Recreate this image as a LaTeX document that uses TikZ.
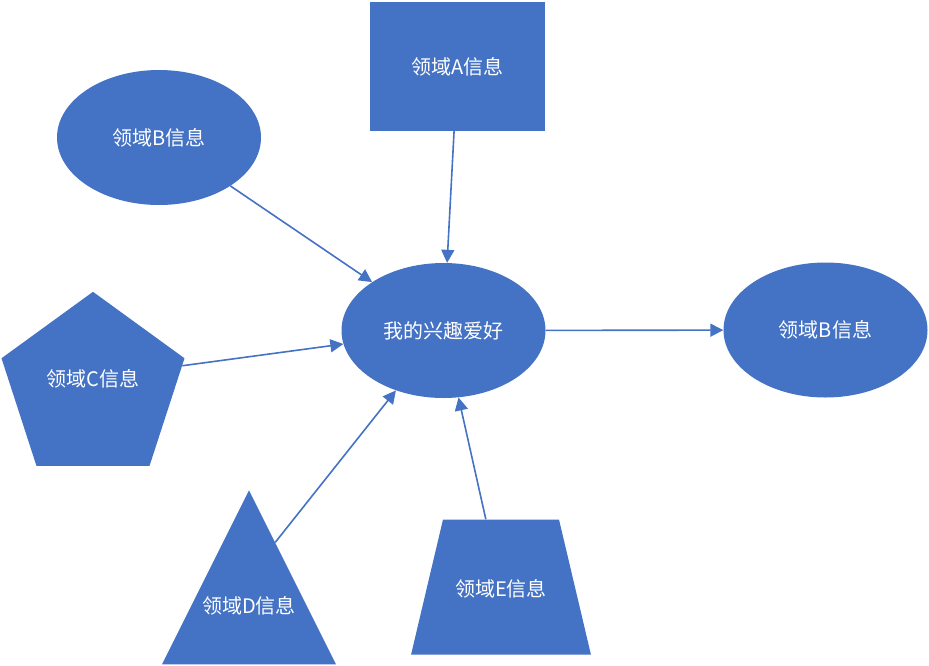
\documentclass[tikz,border=0pt]{standalone}
\usepackage{fontspec}
\newfontfamily\cjk{Noto Sans CJK SC}
\usetikzlibrary{shapes.geometric,arrows.meta}
\definecolor{officeblue}{HTML}{4472C4}
\begin{document}
\begin{tikzpicture}[x=1pt,y=-1pt,
  shp/.style={fill=officeblue, text=white, inner sep=0pt, font=\cjk\fontsize{20}{24}\selectfont},
  lbl/.style={text=white, inner sep=0pt, font=\cjk\fontsize{20}{24}\selectfont},
  arr/.style={draw=officeblue, line width=1.6pt, -{Triangle[length=13pt,width=13pt]}}]
\useasboundingbox (0,0) rectangle (929,665);
\node[shp, ellipse, minimum width=204pt, minimum height=135pt] (hub) at (443.5,330.5){我的兴趣爱好};
\node[shp, rectangle, minimum width=175pt, minimum height=129pt] (infoA) at (457.5,66.5){领域A信息};
\node[shp, ellipse, minimum width=204pt, minimum height=135pt] (infoB) at (159,137.5){领域B信息};
\node[shp, ellipse, minimum width=204pt, minimum height=135pt] (infoBr) at (825.5,330){领域B信息};
\node[shp, regular polygon, regular polygon sides=5, minimum size=192.4pt, label={[lbl, yshift=9pt]center:领域C信息}] (infoC) at (93,388){};
\node[shp, isosceles triangle, shape border rotate=90, isosceles triangle apex angle=53.4, isosceles triangle stretches, minimum width=174pt, minimum height=174pt, anchor=apex, label={[lbl, yshift=5pt]center:领域D信息}] (infoD) at (249,490){};
\node[shp, trapezium, trapezium left angle=76.7, trapezium right angle=76.7, text width=116pt, align=center, text height=77pt, text depth=58pt] (infoE) at (501,587){领域E信息};
\draw[arr] (infoA) -- (hub);
\draw[arr] (infoB) -- (hub);
\draw[arr] (infoC.14) -- (hub);
\draw[arr] (infoD.69) -- (hub);
\draw[arr] (infoE) -- (hub);
\draw[arr] (hub) -- (infoBr);
\end{tikzpicture}
\end{document}
